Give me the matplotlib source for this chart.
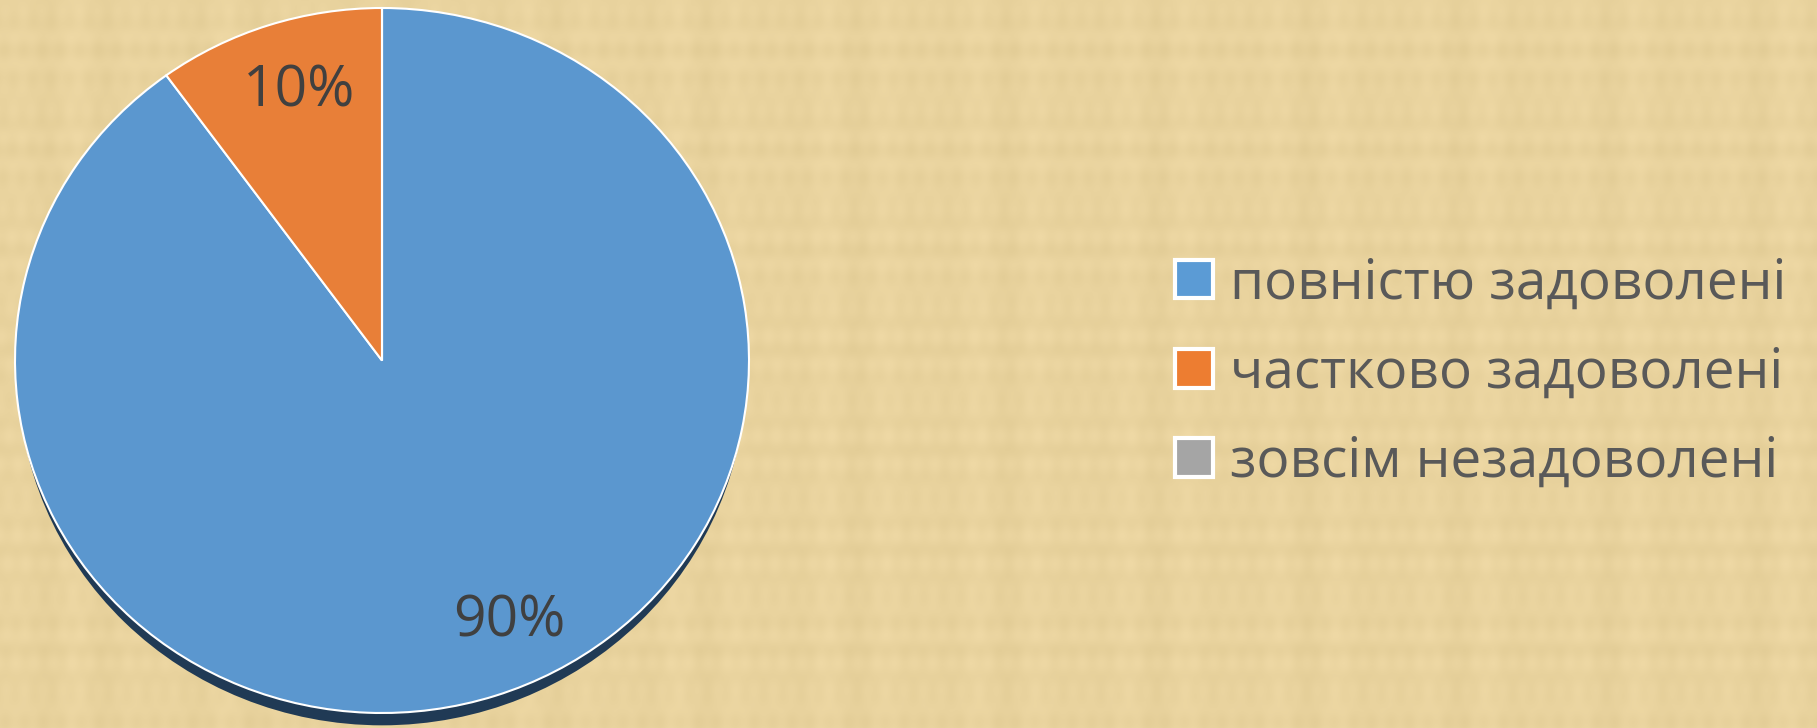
import numpy as np
import matplotlib
matplotlib.use("Agg")
import matplotlib.pyplot as plt
from matplotlib.patches import Patch, Ellipse

# data
labels = ["повністю задоволені", "частково задоволені", "зовсім незадоволені"]
values = [90, 10, 0]
colors = ["#5B97CF", "#E87F38", "#A5A5A5"]
legend_colors = ["#5B9BD5", "#ED7D31", "#A5A5A5"]

plt.rcParams['font.family'] = ['Open Sans', 'DejaVu Sans']

W, H = 1817, 728
fig = plt.figure(figsize=(W / 100, H / 100), dpi=100)

# parchment-like background (deterministic stripes)
bg = fig.add_axes([0, 0, 1, 1])
xx = np.linspace(0, 1, W)
yy = np.linspace(0, 1, H)
X, Y = np.meshgrid(xx, yy)
tex = (0.5 * np.sin(X * 190) * np.sin(X * 37) + 0.5 * np.sin(Y * 160) * np.sin(Y * 23)
       + 0.3 * np.sin(X * 610 + Y * 3) * np.sin(Y * 71)) * 0.4
base = np.array([233, 211, 158]) / 255.0
img = np.clip(base[None, None, :] + tex[..., None] * np.array([0.05, 0.05, 0.06]), 0, 1)
bg.imshow(img, aspect='auto', extent=[0, 1, 0, 1])
bg.set_axis_off()

# pie axes: x 15..749, y 8..713 (from top)
ax = fig.add_axes([15 / W, (H - 713) / H, 734 / W, 705 / H])
ax.patch.set_alpha(0)

# shadow below the pie
ax.add_patch(Ellipse((0.0, -0.035), 1.985, 2.0, facecolor="#203A55",
                     zorder=0, clip_on=False))

wedges, texts, autotexts = ax.pie(
    values, colors=colors, startangle=90, counterclock=False,
    autopct=lambda p: f"{p:.0f}%" if p > 0 else "",
    pctdistance=0.8, radius=1.0,
    wedgeprops=dict(edgecolor="white", linewidth=1.5),
    textprops=dict(fontsize=41, color="#404040"),
)
for w in wedges:
    w.set_clip_on(False)
# nudge the big label like the original
label_shift = [(0.1, 0.02), (0.02, 0.0), (0.0, 0.0)]
for t, (dx, dy) in zip(autotexts, label_shift):
    x, y = t.get_position()
    t.set_position((x + dx, y + dy))

ax.set_aspect('auto')
ax.set_xlim(-1.0, 1.0)
ax.set_ylim(-1.0, 1.0)
ax.set_axis_off()

handles = [Patch(facecolor=c, edgecolor="white", linewidth=3) for c in legend_colors]
leg = fig.legend(handles, labels, loc="center left",
                 bbox_to_anchor=(1153 / W, 1 - 373 / H), frameon=False,
                 fontsize=39.5, labelcolor="#595959",
                 handlelength=0.7, handleheight=0.7, handletextpad=0.3,
                 labelspacing=0.62, borderaxespad=0)

fig.savefig("out.png", dpi=100)
